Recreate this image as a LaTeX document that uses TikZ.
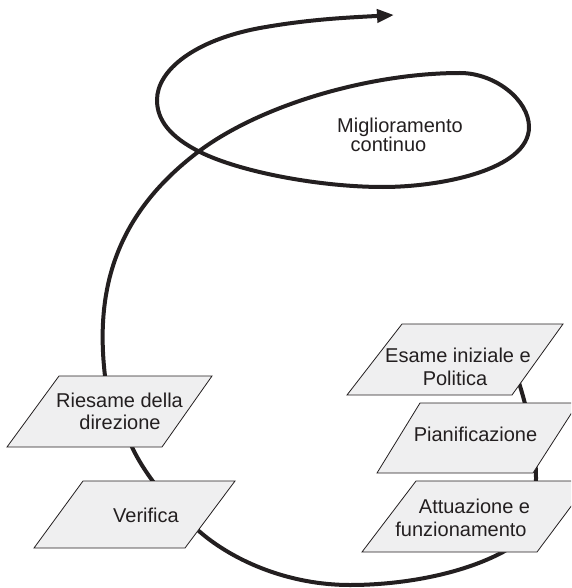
\documentclass[tikz,border=0pt]{standalone}
\usepackage{fontspec}
\setmainfont{Liberation Sans}
\usetikzlibrary{arrows.meta}
\definecolor{ink}{HTML}{231F20}
\definecolor{boxfill}{HTML}{EFEFF0}
\begin{document}
\begin{tikzpicture}[x=1pt,y=-1pt,
  spiral/.style={draw=ink, line width=4pt},
  pbox/.style={draw=ink, fill=boxfill, line width=0.8pt, line join=miter},
  lbl/.style={text=ink, font=\fontsize{20}{23}\selectfont, inner sep=0pt, anchor=base}]
\useasboundingbox (0,0) rectangle (571,588);
\clip (0,0) rectangle (571,588);
\coordinate (start) at (512,362);
\coordinate (tip) at (394,15);
\draw[spiral, -{Triangle[length=17pt,width=13pt]}] (start)
  .. controls (524,395) and (536,440) .. (536,478)
  .. controls (536,515) and (525,540) .. (503,552)
  .. controls (460,575) and (400,585) .. (350,585)
  .. controls (290,585) and (235,562) .. (200,532)
  .. controls (172,508) and (145,475) .. (132,447)
  .. controls (120,420) and (108,400) .. (105,376)
  .. controls (95,290) and (115,215) .. (198,152)
  .. controls (260,105) and (370,73) .. (460,73)
  .. controls (495,73) and (529,100) .. (529,127)
  .. controls (529,170) and (440,187) .. (383,187)
  .. controls (320,187) and (240,172) .. (200,152)
  .. controls (170,137) and (157,120) .. (157,100)
  .. controls (157,70) and (195,40) .. (260,28)
  .. controls (310,19) and (350,17.5) .. (tip);
% boxes
\draw[pbox] (402,324) -- (563,324) -- (512,395) -- (347,395) -- cycle;
\draw[pbox] (420,403) -- (578,403) -- (533,473) -- (377,473) -- cycle;
\draw[pbox] (416,481) -- (590,481) -- (537,552) -- (362,552) -- cycle;
\draw[pbox] (59,376) -- (212,376) -- (162,447) -- (7,447) -- cycle;
\draw[pbox] (83,481) -- (235,481) -- (185,548) -- (34,548) -- cycle;
% labels
\node[lbl] (mig1) at (400,133) {Miglioramento};
\node[lbl] (mig2) at (388.5,152) {continuo};
\node[lbl] (esa1) at (458,362) {Esame iniziale e};
\node[lbl] (esa2) at (455,385) {Politica};
\node[lbl] (pian) at (475.5,441.5) {Pianificazione};
\node[lbl] (att1) at (474.5,513) {Attuazione e};
\node[lbl] (att2) at (461,536) {funzionamento};
\node[lbl] (ries1) at (119.5,407) {Riesame della};
\node[lbl] (ries2) at (120,429) {direzione};
\node[lbl] (veri) at (146,522) {Verifica};
\end{tikzpicture}
\end{document}
